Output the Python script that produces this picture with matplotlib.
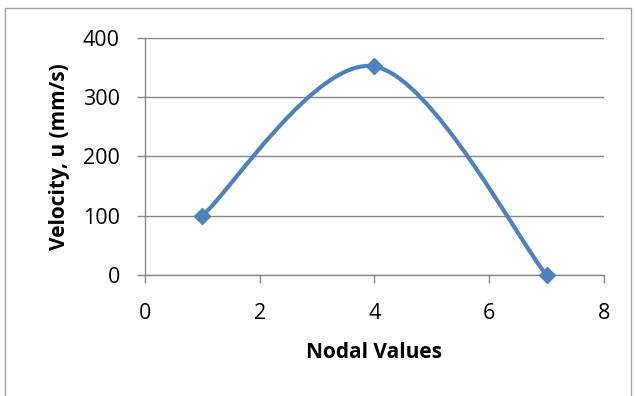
import numpy as np
import matplotlib.pyplot as plt
from matplotlib.path import Path
from matplotlib.patches import PathPatch, Rectangle

# data
nodes = [1, 4, 7]
velocity = [100, 352, 0]

x_ticks = [0, 2, 4, 6, 8]
y_ticks = [0, 100, 200, 300, 400]

blue = "#4F81BD"
grid_gray = "#868686"

plt.rcParams["font.family"] = ["Open Sans", "DejaVu Sans"]


def smooth_path(xs, ys):
    # Excel-like smoothed line: cubic bezier with Catmull-Rom control points
    pts = np.column_stack([xs, ys]).astype(float)
    n = len(pts)
    verts = [pts[0]]
    codes = [Path.MOVETO]
    for i in range(n - 1):
        p_prev = pts[max(i - 1, 0)]
        p0 = pts[i]
        p1 = pts[i + 1]
        p_next = pts[min(i + 2, n - 1)]
        c1 = p0 + (p1 - p_prev) / 6.0
        c2 = p1 - (p_next - p0) / 6.0
        verts += [c1, c2, p1]
        codes += [Path.CURVE4] * 3
    return Path(verts, codes)


fig = plt.figure(figsize=(6.35, 3.96), dpi=100)
ax = fig.add_axes([0.2283, 0.3056, 0.951 - 0.2283, 0.904 - 0.3056])

ax.add_patch(PathPatch(smooth_path(nodes, velocity), facecolor="none",
                       edgecolor=blue, linewidth=3, capstyle="round", zorder=3))
ax.plot(nodes, velocity, linestyle="none", marker="D", markersize=8.5,
        color=blue, zorder=4, clip_on=False)

ax.set_xlim(0, 8)
ax.set_ylim(0, 400)
ax.set_xticks(x_ticks)
ax.set_yticks(y_ticks)
ax.tick_params(axis="both", direction="out", length=6, width=1,
               color=grid_gray, labelsize=15.5)
ax.tick_params(axis="y", pad=12)
ax.tick_params(axis="x", pad=14)

ax.grid(axis="y", color=grid_gray, linewidth=1)
ax.set_axisbelow(True)
for side in ["top", "right"]:
    ax.spines[side].set_visible(False)
for side in ["left", "bottom"]:
    ax.spines[side].set_color(grid_gray)
    ax.spines[side].set_linewidth(1)

ax.set_xlabel("Nodal Values", fontsize=15, fontweight="bold", labelpad=13)
ax.set_ylabel("Velocity, u (mm/s)", fontsize=15, fontweight="bold", labelpad=9)

# chart border
fig.patches.append(Rectangle((0.008, -0.01), 0.985, 0.99, transform=fig.transFigure,
                             fill=False, edgecolor="#A0A0A0", linewidth=1))

fig.savefig("out.png", dpi=100)
